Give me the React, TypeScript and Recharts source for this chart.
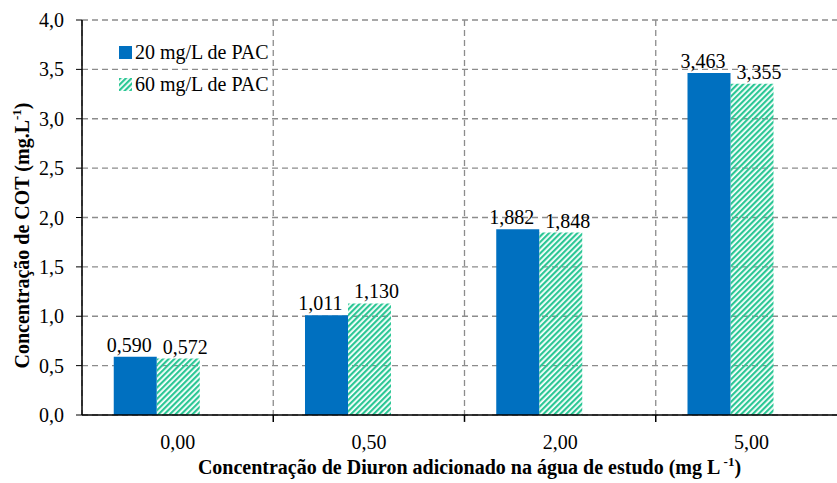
import React from 'react';
import { BarChart, Bar, XAxis, YAxis, CartesianGrid, Legend, LabelList, Label, ReferenceLine } from 'recharts';

const categories = ['0,00', '0,50', '2,00', '5,00'];
const pac20 = [0.59, 1.011, 1.882, 3.463];
const pac60 = [0.572, 1.13, 1.848, 3.355];
const seriesNames = ['20 mg/L de PAC', '60 mg/L de PAC'];
const yTicks = [0, 0.5, 1, 1.5, 2, 2.5, 3, 3.5, 4];
const boundaryTicks = [1, 2, 3];

const data = categories.map((c, i) => ({ cat: c, idx: i + 0.5, a: pac20[i], b: pac60[i], c: null }));

const FONT = '"Liberation Serif", "Times New Roman", serif';
const FS = 20;
const BLUE = '#0070C0';
const GREEN = '#2BC795';

const fmt3 = (v: any) => (typeof v === 'number' ? v.toFixed(3).replace('.', ',') : '');
const fmt1 = (v: any) => v.toFixed(1).replace('.', ',');

const HatchIcon = () => (
  <svg width={13} height={13} style={{ display: 'block' }}>
    <defs>
      <pattern id="hatchLegend" width="4" height="4" patternUnits="userSpaceOnUse" patternTransform="rotate(45)">
        <rect x="0" y="0" width="2.2" height="4" fill={GREEN} />
      </pattern>
    </defs>
    <rect x={0} y={0} width={13} height={13} fill="url(#hatchLegend)" />
  </svg>
);

const renderLegend = (props: any) => {
  const items = (props.payload || []).filter((p: any) => p.type !== 'none');
  return (
    <div style={{ fontFamily: FONT, fontSize: FS, color: '#000' }}>
      {items.map((it: any, i: number) => (
        <div key={i} style={{ display: 'flex', alignItems: 'center', height: 32 }}>
          {i === 0 ? (
            <svg width={13} height={13} style={{ display: 'block' }}>
              <rect x={0} y={0} width={13} height={13} fill={BLUE} />
            </svg>
          ) : (
            <HatchIcon />
          )}
          <span style={{ marginLeft: 3, whiteSpace: 'nowrap' }}>{it.value}</span>
        </div>
      ))}
    </div>
  );
};

const XLabel = (props: any) => {
  const vb = props.viewBox || {};
  const cx = vb.x + vb.width / 2 + 5;
  return (
    <text x={cx} y={vb.y + 59} textAnchor="middle" fontFamily={FONT} fontSize={FS} fontWeight="bold" fill="#000">
      Concentração de Diuron adicionado na água de estudo (mg L
      <tspan fontSize={13} dy={-8}> -1</tspan>
      <tspan dy={8}>)</tspan>
    </text>
  );
};

const YLabel = (props: any) => {
  const vb = props.viewBox || {};
  const cy = vb.y + vb.height / 2 + 18;
  const x = 29;
  return (
    <text x={x} y={cy} transform={`rotate(-90 ${x} ${cy})`} textAnchor="middle" fontFamily={FONT} fontSize={FS} fontWeight="bold" fill="#000">
      Concentração de COT (mg.L
      <tspan fontSize={13} dy={-8}>-1</tspan>
      <tspan dy={8}>)</tspan>
    </text>
  );
};

export default function App() {
  return (
    <div style={{ position: 'absolute', left: 0, top: 0, width: 837, height: 483, overflow: 'hidden', background: '#fff' }}>
      <BarChart
        width={850}
        height={483}
        data={data}
        margin={{ top: 20, right: 3, bottom: 0, left: 0 }}
        barCategoryGap="16.6%"
        barGap={0}
      >
        <defs>
          <pattern id="hatchBar" width="4" height="4" patternUnits="userSpaceOnUse" patternTransform="rotate(45)">
            <rect x="0" y="0" width="2.2" height="4" fill={GREEN} />
          </pattern>
        </defs>
        <XAxis xAxisId="grid" type="number" dataKey="idx" domain={[0, 4]} ticks={boundaryTicks} hide />
        <XAxis
          xAxisId="cat"
          dataKey="cat"
          height={68}
          axisLine={{ stroke: '#000', strokeWidth: 1.5 }}
          tickLine={false}
          tickSize={0}
          tickMargin={20}
          tick={{ fontFamily: FONT, fontSize: FS, fill: '#000' }}
        >
          <Label content={<XLabel />} />
        </XAxis>
        <YAxis
          width={82}
          domain={[0, 4]}
          ticks={yTicks}
          tickFormatter={fmt1}
          axisLine={{ stroke: '#000', strokeWidth: 1.5 }}
          tickLine={{ stroke: '#000' }}
          tickSize={6}
          tickMargin={12}
          tick={{ fontFamily: FONT, fontSize: FS, fill: '#000' }}
        >
          <Label content={<YLabel />} />
        </YAxis>
        <CartesianGrid xAxisId="grid" stroke="#8c8c8c" strokeDasharray="6 4" strokeWidth={1.3} />
        {boundaryTicks.map((b) => (
          <ReferenceLine
            key={b}
            xAxisId="grid"
            segment={[{ x: b, y: 0 }, { x: b, y: -0.07 }]}
            ifOverflow="visible"
            stroke="#000"
            strokeWidth={1.5}
          />
        ))}
        <Legend
          layout="vertical"
          align="center"
          verticalAlign="middle"
          wrapperStyle={{ position: 'absolute', left: 119, top: 36, width: 'auto', height: 'auto' }}
          content={renderLegend}
        />
        <Bar xAxisId="cat" dataKey="a" name={seriesNames[0]} fill={BLUE} isAnimationActive={false}>
          <LabelList dataKey="a" position="top" offset={5} dx={-6} formatter={fmt3} style={{ fontFamily: FONT, fontSize: FS, fill: '#000' }} />
        </Bar>
        <Bar xAxisId="cat" dataKey="b" name={seriesNames[1]} fill="url(#hatchBar)" isAnimationActive={false}>
          <LabelList dataKey="b" position="top" offset={5} dx={7} formatter={fmt3} style={{ fontFamily: FONT, fontSize: FS, fill: '#000' }} />
        </Bar>
        <Bar xAxisId="cat" dataKey="c" name="" legendType="none" fill="none" isAnimationActive={false} />
      </BarChart>
    </div>
  );
}
